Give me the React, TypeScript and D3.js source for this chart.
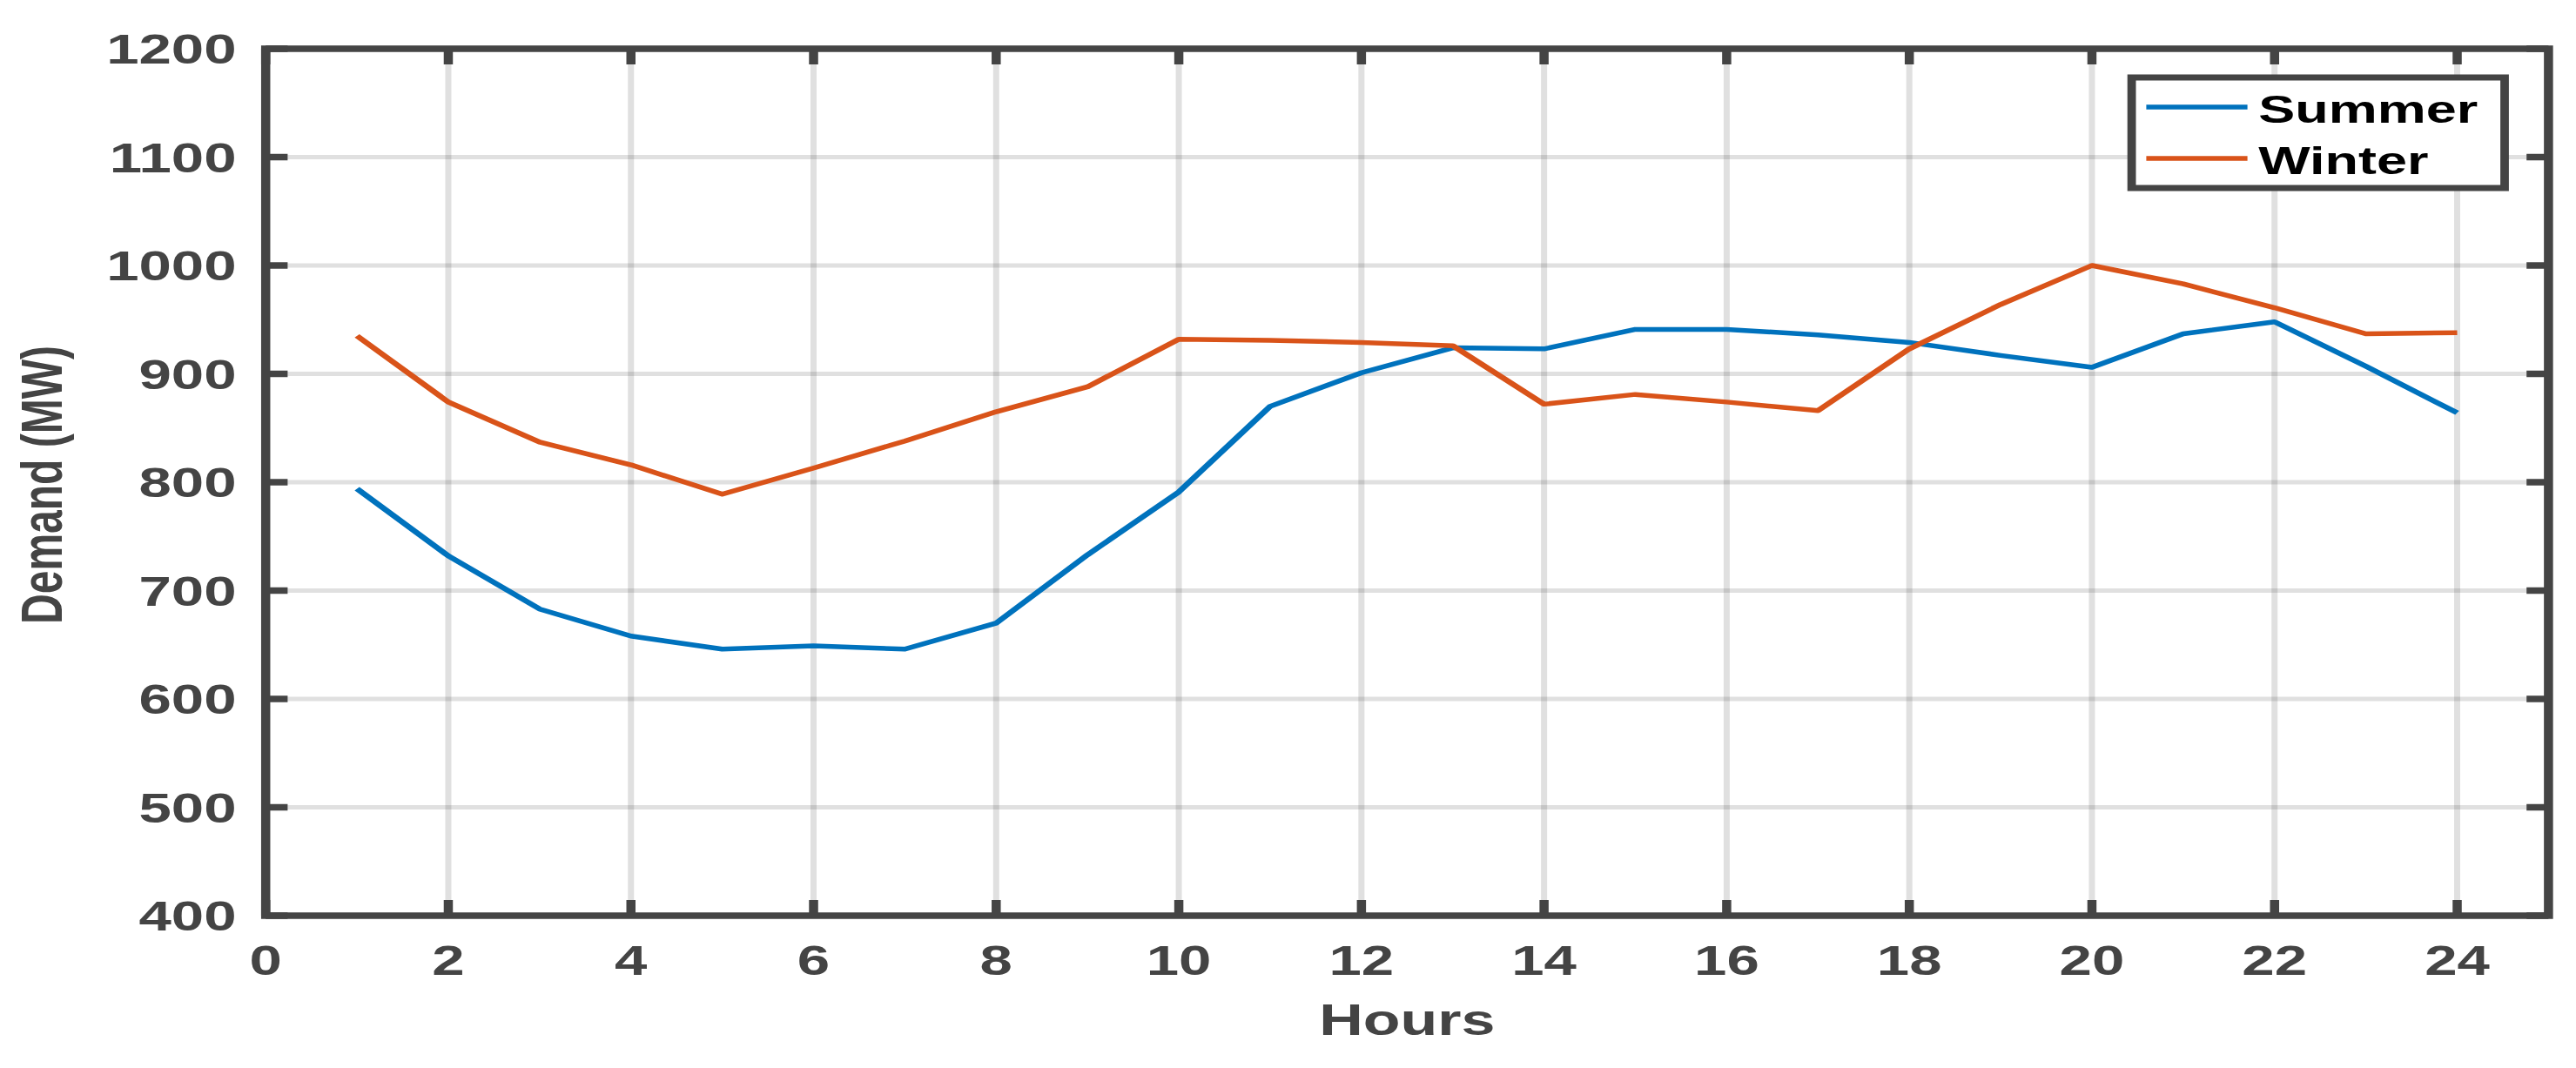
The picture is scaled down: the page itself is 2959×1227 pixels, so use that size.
import React from 'react';
import * as d3 from 'd3';

// hourly demand (MW)
const hours = d3.range(1, 25);
const summer = [794, 732, 683, 658, 646, 649, 646, 670, 733, 791, 870, 901, 924, 923, 941, 941, 936, 929, 917, 906, 937, 948, 907, 864];
const winter = [935, 874, 837, 816, 789, 813, 838, 865, 888, 932, 931, 929, 926, 872, 881, 874, 866, 923, 964, 1000, 983, 961, 937, 938];
const xTicks = d3.range(0, 25, 2);
const yTicks = d3.range(400, 1201, 100);
const seriesNames = ['Summer', 'Winter'];
const seriesColors = ['#0072BD', '#D95319'];

const W = 2959;
const H = 1227;
// the original figure is stretched sideways, so draw in a narrower space and stretch it
const SX = 1.4;
const VW = W / SX;

const FONT = '"Liberation Sans", Arial, sans-serif';
const AXIS = '#444444';

export default function App() {
  const x = d3.scaleLinear().domain([0, 25]).range([218, 2091]);
  const y = d3.scaleLinear().domain([400, 1200]).range([1052, 56]);
  const [x0, x1] = x.range();
  const [yb, yt] = y.range();
  const tick = 18;

  const line = d3.line<number>()
    .x((_, i) => x(hours[i]))
    .y(d => y(d));

  const series = [summer, winter];

  // legend placement
  const lg = { x: 1749, y: 89, w: 306, h: 127 };

  return (
    <svg
      width={W}
      height={H}
      viewBox={`0 0 ${VW} ${H}`}
      preserveAspectRatio="none"
      style={{ position: 'absolute', left: 0, top: 0, display: 'block', background: '#fff' }}
      fontFamily={FONT}
      fontWeight="bold"
    >
      {/* grid */}
      <g stroke="#262626" strokeOpacity={0.14} strokeWidth={5}>
        {xTicks.filter(t => t > 0).map(t => (
          <line key={'gx' + t} x1={x(t)} x2={x(t)} y1={yt} y2={yb} />
        ))}
        {yTicks.filter(t => t > 400 && t < 1200).map(t => (
          <line key={'gy' + t} x1={x0} x2={x1} y1={y(t)} y2={y(t)} />
        ))}
      </g>

      {/* data */}
      {series.map((s, i) => (
        <path key={seriesNames[i]} d={line(s) || ''} fill="none" stroke={seriesColors[i]}
          strokeWidth={5.5} strokeLinejoin="round" />
      ))}

      {/* ticks on all sides, pointing in */}
      <g stroke={AXIS} strokeWidth={7.5}>
        {xTicks.map(t => (
          <g key={'tx' + t}>
            <line x1={x(t)} x2={x(t)} y1={yb} y2={yb - tick} />
            <line x1={x(t)} x2={x(t)} y1={yt} y2={yt + tick} />
          </g>
        ))}
        {yTicks.map(t => (
          <g key={'ty' + t}>
            <line x1={x0} x2={x0 + tick} y1={y(t)} y2={y(t)} />
            <line x1={x1} x2={x1 - tick} y1={y(t)} y2={y(t)} />
          </g>
        ))}
        <rect x={x0} y={yt} width={x1 - x0} height={yb - yt} fill="none" />
      </g>

      {/* tick labels */}
      <g fill={AXIS} fontSize={48}>
        {xTicks.map(t => (
          <text key={'lx' + t} x={x(t)} y={yb + 68} textAnchor="middle">{t}</text>
        ))}
        {yTicks.map(t => (
          <text key={'ly' + t} x={x0 - 24} y={y(t)} dy="0.36em" textAnchor="end">{t}</text>
        ))}
      </g>

      {/* axis titles */}
      <text x={(x0 + x1) / 2} y={1189} textAnchor="middle" fontSize={50} fill={AXIS}>Hours</text>
      <text transform={`translate(${54 / SX + 12},557) rotate(-90)`} textAnchor="middle"
        fontSize={48} fill={AXIS}>Demand (MW)</text>

      {/* legend */}
      <g>
        <rect x={lg.x} y={lg.y} width={lg.w} height={lg.h} fill="#fff" stroke={AXIS} strokeWidth={7} />
        {seriesNames.map((name, i) => (
          <g key={'lg' + name}>
            <line x1={lg.x + 12} x2={lg.x + 95} y1={lg.y + 34 + i * 59} y2={lg.y + 34 + i * 59}
              stroke={seriesColors[i]} strokeWidth={5.5} />
            <text x={lg.x + 104} y={lg.y + 52 + i * 59} fontSize={45} fill="#000">{name}</text>
          </g>
        ))}
      </g>
    </svg>
  );
}
